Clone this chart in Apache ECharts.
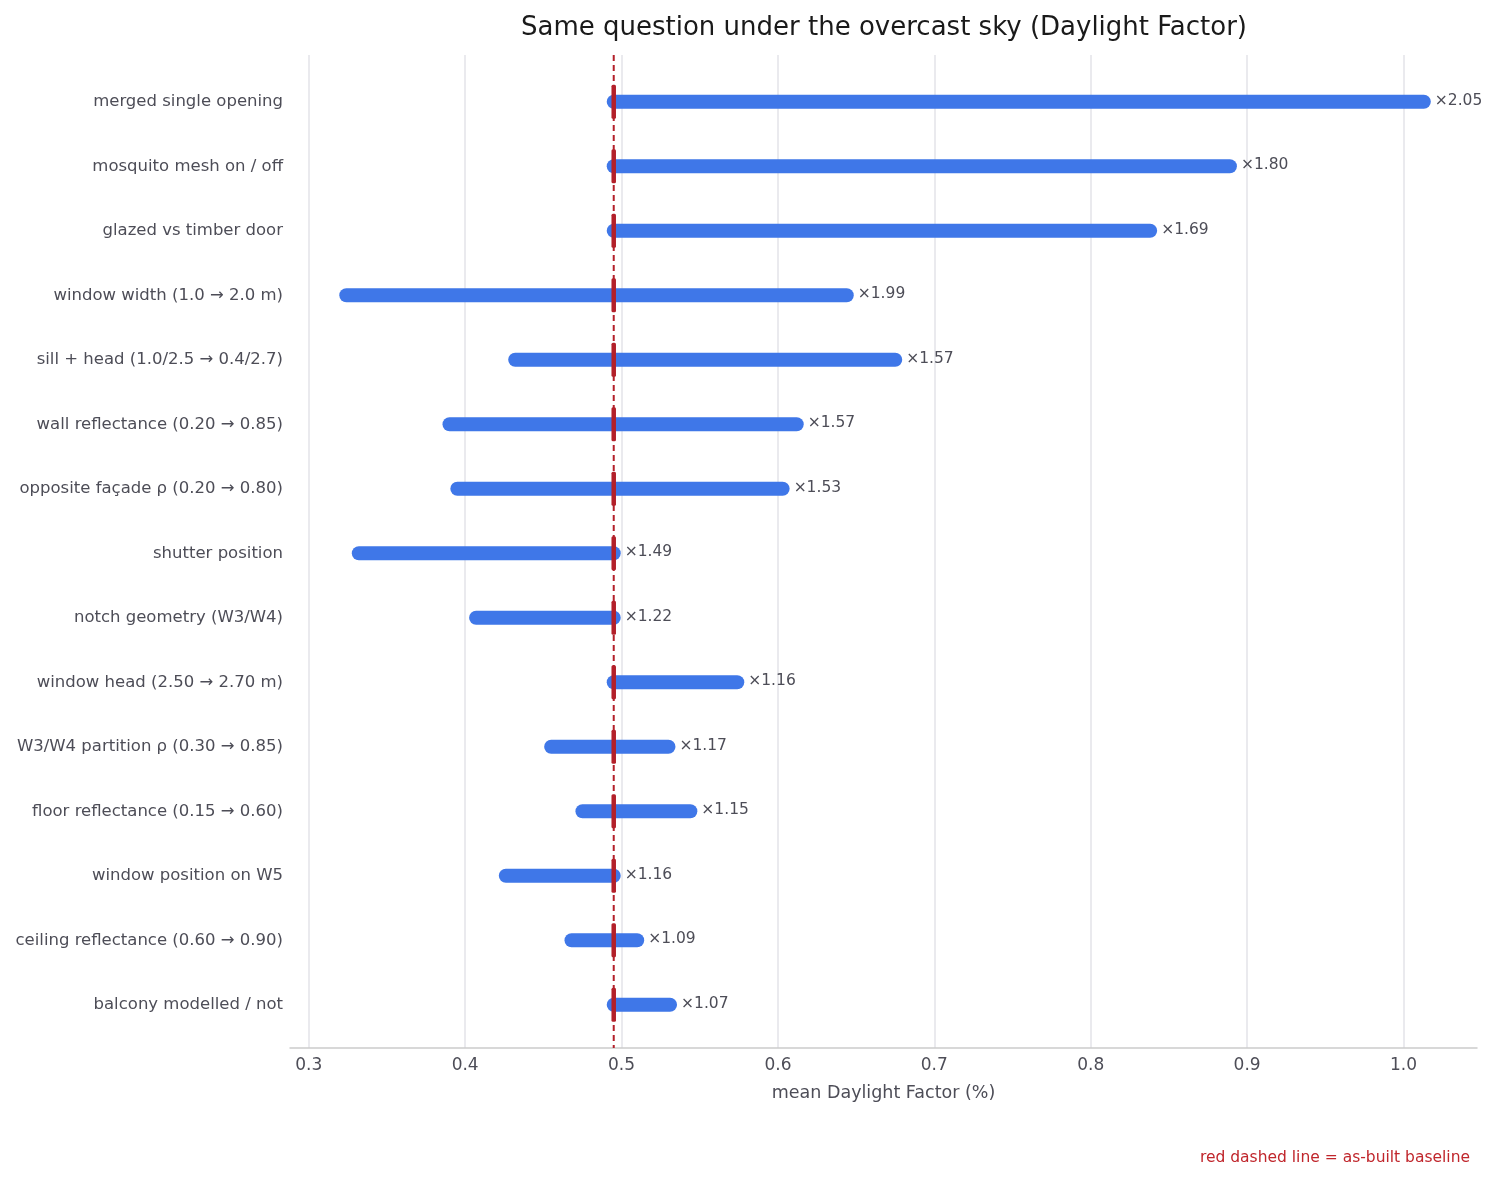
<!DOCTYPE html>
<html>
<head>
<meta charset="utf-8">
<script src="https://cdn.jsdelivr.net/npm/echarts@6/dist/echarts.min.js"></script>
<style>
html, body { margin: 0; padding: 0; background: #fff; }
#chart { width: 1495px; height: 1181px; }
</style>
</head>
<body>
<div id="chart"></div>
<script>
// rows, top to bottom
var categories = [
    'merged single opening',
    'mosquito mesh on / off',
    'glazed vs timber door',
    'window width (1.0 \u2192 2.0 m)',
    'sill + head (1.0/2.5 \u2192 0.4/2.7)',
    'wall reflectance (0.20 \u2192 0.85)',
    'opposite fa\u00e7ade \u03c1 (0.20 \u2192 0.80)',
    'shutter position',
    'notch geometry (W3/W4)',
    'window head (2.50 \u2192 2.70 m)',
    'W3/W4 partition \u03c1 (0.30 \u2192 0.85)',
    'floor reflectance (0.15 \u2192 0.60)',
    'window position on W5',
    'ceiling reflectance (0.60 \u2192 0.90)',
    'balcony modelled / not'
];
var lowVals = [0.495, 0.495, 0.495, 0.324, 0.432, 0.390, 0.395, 0.332, 0.407, 0.495, 0.455, 0.475, 0.426, 0.468, 0.495];
var highVals = [1.013, 0.889, 0.838, 0.644, 0.675, 0.612, 0.603, 0.495, 0.495, 0.574, 0.530, 0.544, 0.495, 0.510, 0.531];
var ratioLabels = ['\u00d72.05', '\u00d71.80', '\u00d71.69', '\u00d71.99', '\u00d71.57', '\u00d71.57', '\u00d71.53', '\u00d71.49', '\u00d71.22', '\u00d71.16', '\u00d71.17', '\u00d71.15', '\u00d71.16', '\u00d71.09', '\u00d71.07'];
var baseline = 0.495;

var font = 'DejaVu Sans';
var textGray = '#4d4d57';
var blue = '#3f77e8';
var red = '#b3202a';

var rows = [];
for (var i = 0; i < categories.length; i++) {
    rows.push([i, lowVals[i], highVals[i], ratioLabels[i]]);
}

function renderRange(params, api) {
    var idx = api.value(0);
    var p0 = api.coord([api.value(1), idx]);
    var p1 = api.coord([api.value(2), idx]);
    var pb = api.coord([baseline, idx]);
    return {
        type: 'group',
        children: [
            {
                type: 'line',
                shape: { x1: p0[0], y1: p0[1], x2: p1[0], y2: p1[1] },
                style: { stroke: blue, lineWidth: 14, lineCap: 'round' }
            },
            {
                type: 'rect',
                shape: { x: pb[0] - 2.25, y: pb[1] - 17, width: 4.5, height: 34, r: 1.5 },
                style: { fill: red }
            },
            {
                type: 'text',
                style: {
                    x: p1[0] + 11, y: p1[1] - 1,
                    text: api.value(3),
                    fill: textGray,
                    font: '15.5px "' + font + '"',
                    verticalAlign: 'middle',
                    align: 'left'
                }
            }
        ]
    };
}

// dashed baseline across the whole plot area
function renderBaseline(params, api) {
    var cs = params.coordSys;
    var x = api.coord([api.value(0), 0])[0];
    return {
        type: 'line',
        shape: { x1: x, y1: cs.y, x2: x, y2: cs.y + cs.height },
        style: { stroke: red, lineWidth: 2, lineDash: [6, 4] }
    };
}

var chart = echarts.init(document.getElementById('chart'));
chart.setOption({
    backgroundColor: '#fff',
    animation: false,
    title: {
        text: 'Same question under the overcast sky (Daylight Factor)',
        left: 879,
        top: 10,
        textAlign: 'center',
        textStyle: { fontFamily: font, fontSize: 26, fontWeight: 'normal', color: '#1a1a1a' }
    },
    grid: [
        { left: 290, right: 18, top: 55, bottom: 133 },
        { left: 290, right: 18, top: 69.5, bottom: 144 }
    ],
    xAxis: [
        {
            gridIndex: 0,
            type: 'value',
            min: 0.288,
            max: 1.047,
            splitNumber: 8,
            name: 'mean Daylight Factor (%)',
            nameLocation: 'middle',
            nameGap: 36,
            nameTextStyle: { fontFamily: font, fontSize: 17.5, color: textGray },
            axisLine: { show: true, lineStyle: { color: '#cccccc', width: 1.5 } },
            axisTick: { show: false },
            axisLabel: {
                fontFamily: font, fontSize: 17, color: textGray, margin: 9,
                showMinLabel: false, showMaxLabel: false,
                formatter: function (v) {
                    var r = Math.round(v * 10) / 10;
                    return Math.abs(r - v) < 1e-6 ? r.toFixed(1) : '';
                }
            },
            splitLine: { show: true, showMinLine: false, showMaxLine: false, lineStyle: { color: '#e3e3e8', width: 1.5 } }
        },
        {
            gridIndex: 1,
            type: 'value',
            min: 0.288,
            max: 1.047,
            show: false
        }
    ],
    yAxis: [
        { gridIndex: 0, type: 'value', min: 0, max: 1, show: false },
        {
            gridIndex: 1,
            type: 'category',
            inverse: true,
            data: categories,
            axisLine: { show: false },
            axisTick: { show: false },
            axisLabel: { fontFamily: font, fontSize: 16.5, color: textGray, margin: 7 }
        }
    ],
    series: [
        {
            type: 'custom',
            xAxisIndex: 0,
            yAxisIndex: 0,
            z: 1,
            silent: true,
            renderItem: renderBaseline,
            data: [[baseline]]
        },
        {
            type: 'custom',
            xAxisIndex: 1,
            yAxisIndex: 1,
            z: 3,
            renderItem: renderRange,
            encode: { x: [1, 2], y: 0 },
            data: rows
        }
    ],
    graphic: [
        {
            type: 'text',
            right: 25,
            top: 1150,
            style: {
                text: 'red dashed line = as-built baseline',
                fill: '#c0262c',
                font: '15.5px "' + font + '"'
            }
        }
    ]
});
</script>
</body>
</html>
